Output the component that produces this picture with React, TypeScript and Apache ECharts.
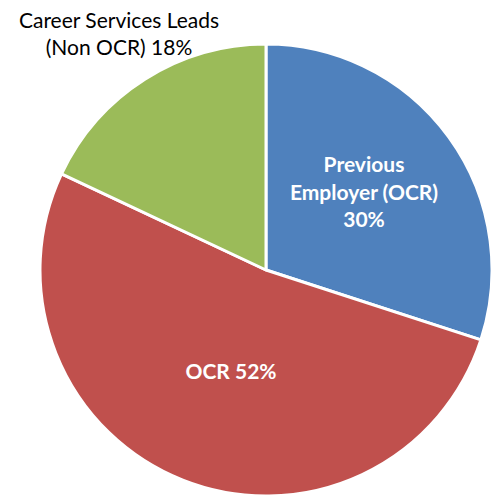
import React, { useEffect, useRef } from "react";
import * as echarts from "echarts";

const categories = ["Previous\nEmployer (OCR)", "OCR", "Career Services Leads\n(Non OCR)"];
const values = [30, 52, 18];
const colors = ["#4F81BD", "#C0504D", "#9BBB59"];

export default function App() {
  const ref = useRef<HTMLDivElement>(null);
  useEffect(() => {
    document.body.style.margin = "0";
    const chart = echarts.init(ref.current!, null, { renderer: "svg" });
    chart.setOption({
      animation: false,
      backgroundColor: "#fff",
      series: [
        {
          type: "pie",
          center: [266, 270],
          radius: [0, 226],
          startAngle: 90,
          clockwise: true,
          itemStyle: { borderColor: "#fff", borderWidth: 3 },
          labelLine: { show: false },
          data: categories.map((c, i) => ({
            name: c,
            value: values[i],
            itemStyle: { color: colors[i] },
            label:
              i === 2
                ? {
                    show: true,
                    position: "outside",
                    color: "#000",
                    fontWeight: "normal",
                  }
                : {
                    show: true,
                    position: "inside",
                    color: "#fff",
                    fontWeight: "bold",
                  },
          })),
          label: {
            formatter: (p: any) =>
              p.dataIndex === 0 ? `${p.name}\n${p.value}%` : `${p.name} ${p.value}%`,
            fontFamily: "Lato, 'Open Sans', sans-serif",
            fontSize: 21,
            lineHeight: 27.5,
            align: "center",
            overflow: "none",
            alignTo: "none",
            edgeDistance: 0,
          },
          labelLayout: (params: any) => {
            if (params.dataIndex === 0) return { x: 364, y: 191, align: "center", verticalAlign: "middle" };
            if (params.dataIndex === 1) return { x: 231, y: 370, align: "center", verticalAlign: "middle" };
            return { x: 119, y: 33, align: "center", verticalAlign: "middle" };
          },
        },
      ],
    });
    return () => chart.dispose();
  }, []);
  return <div ref={ref} style={{ width: 491, height: 498 }} />;
}
